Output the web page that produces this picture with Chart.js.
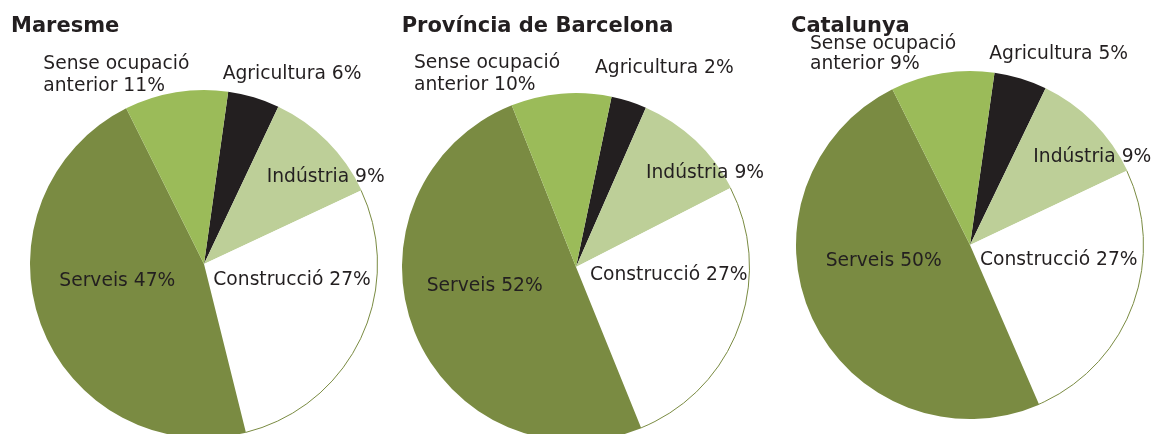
<!DOCTYPE html>
<html>
<head>
<meta charset="utf-8">
<script src="https://cdn.jsdelivr.net/npm/chart.js@4"></script>
<style>
    body { margin: 0; background: #fff; }
    #wrap { position: relative; width: 1155px; height: 434px; overflow: hidden; }
    #wrap canvas { position: absolute; top: 0; }
</style>
</head>
<body>
<div id="wrap">
    <canvas id="maresme" width="390" height="450" style="left:0px"></canvas>
    <canvas id="provincia" width="390" height="450" style="left:390px"></canvas>
    <canvas id="catalunya" width="375" height="450" style="left:780px"></canvas>
</div>
<script>
// categories, in drawing order (clockwise)
const categories = ['Agricultura', 'Indústria', 'Construcció', 'Serveis', ['Sense ocupació', 'anterior']];

// slice shares as they appear in the picture
const maresmeShare = [4.8, 11.0, 28.1, 46.5, 9.6];
const provinciaShare = [3.3, 10.9, 26.4, 50.1, 9.3];
const catalunyaShare = [4.9, 10.8, 25.5, 49.1, 9.6];

// percentages printed in the labels
const maresmePct = [6, 9, 27, 47, 11];
const provinciaPct = [2, 9, 27, 52, 10];
const catalunyaPct = [5, 9, 27, 50, 9];

const sliceColors = ['#231f20', '#bdcf98', '#ffffff', '#7a8b42', '#9bbb59'];
const textColor = '#231f20';

// draws the outline of the white slice, the title and the slice labels
const pieText = {
    id: 'pieText',
    afterDraw(chart, args, opts) {
        const ctx = chart.ctx;
        const arcs = chart.getDatasetMeta(0).data;
        const cx = arcs[0].x, cy = arcs[0].y;

        ctx.save();
        const white = arcs[2];
        ctx.beginPath();
        ctx.arc(cx, cy, white.outerRadius - 0.5, white.startAngle, white.endAngle);
        ctx.strokeStyle = '#7a8b42';
        ctx.lineWidth = 1;
        ctx.stroke();

        ctx.fillStyle = textColor;
        ctx.textAlign = 'left';
        ctx.textBaseline = 'alphabetic';
        ctx.font = 'bold 21px "DejaVu Sans"';
        ctx.fillText(opts.title, opts.titleX, opts.titleY);

        ctx.font = '18.7px "DejaVu Sans"';
        chart.data.labels.forEach(function (label, i) {
            const lines = Array.isArray(label) ? label.slice() : [label];
            lines[lines.length - 1] += ' ' + opts.pct[i] + '%';
            const o = opts.offsets[i];
            lines.forEach(function (line, j) {
                ctx.fillText(line, cx + o[0], cy + o[1] + j * opts.lineGap);
            });
        });
        ctx.restore();
    }
};

function makePie(id, share, pct, rotation, padding, text) {
    const ctx = document.getElementById(id).getContext('2d');
    return new Chart(ctx, {
        type: 'pie',
        data: {
            labels: categories,
            datasets: [{
                data: share,
                backgroundColor: sliceColors,
                borderWidth: 0
            }]
        },
        options: {
            responsive: false,
            animation: false,
            events: [],
            rotation: rotation,
            layout: { padding: padding },
            plugins: {
                legend: { display: false },
                tooltip: { enabled: false },
                pieText: Object.assign({ pct: pct }, text)
            }
        },
        plugins: [pieText]
    });
}

makePie('maresme', maresmeShare, maresmePct, 8.0,
    { left: 30, right: 12, top: 90, bottom: 12 },
    {
        title: 'Maresme', titleX: 11, titleY: 32, lineGap: 21.5,
        offsets: [[18.7, -185], [62.7, -82.3], [9.3, 21], [-144.7, 22], [-160.7, -195]]
    });

makePie('provincia', provinciaShare, provinciaPct, 11.8,
    { left: 12, right: 30, top: 93, bottom: 9 },
    {
        title: 'Província de Barcelona', titleX: 11.7, titleY: 32.3, lineGap: 21.7,
        offsets: [[19, -194.3], [70, -88.7], [14, 13], [-149.3, 24], [-162, -198.7]]
    });

makePie('catalunya', catalunyaShare, catalunyaPct, 8.1,
    { left: 16, right: 11, top: 71, bottom: 31 },
    {
        title: 'Catalunya', titleX: 11, titleY: 32.3, lineGap: 20.3,
        offsets: [[19.3, -186], [63.3, -83.3], [10, 20], [-144.3, 20.7], [-160, -196]]
    });
</script>
</body>
</html>
